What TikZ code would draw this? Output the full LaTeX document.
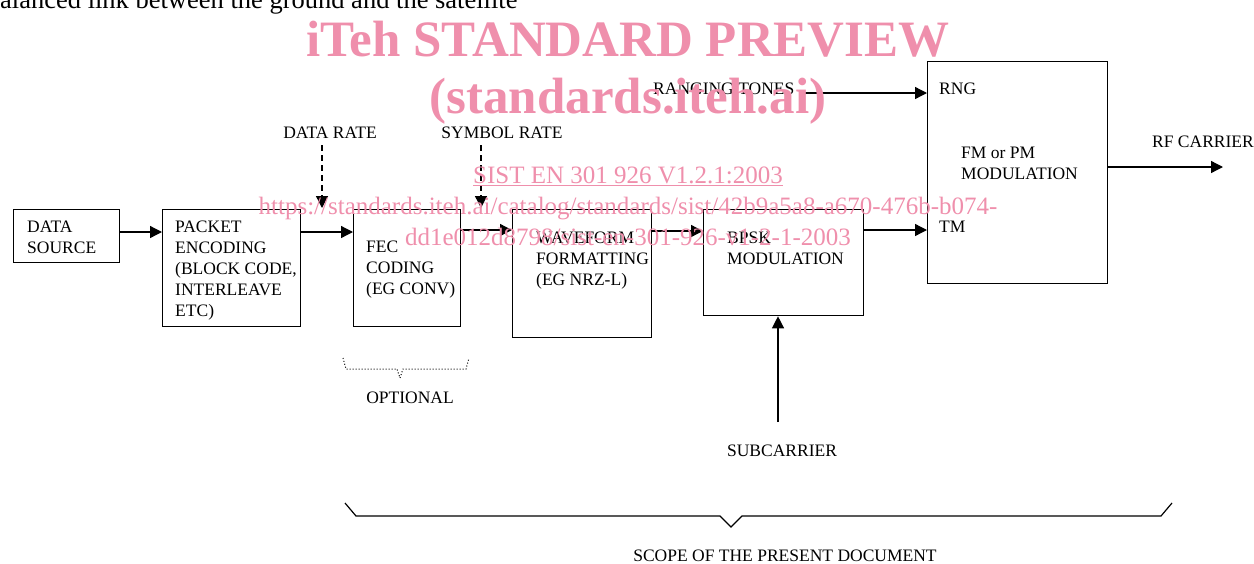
\documentclass[tikz,border=0pt]{standalone}
\usepackage{fontspec}
\setmainfont{Liberation Serif}
\usetikzlibrary{arrows.meta}
\definecolor{wm}{RGB}{239,143,172}
\begin{document}
\begin{tikzpicture}[x=1pt,y=-1pt,
  box/.style={draw, line width=1.3pt, rectangle, inner sep=0pt, anchor=north west},
  lbl/.style={inner sep=0pt, font=\fontsize{17.5}{21}\selectfont, align=left, anchor=north west},
  clbl/.style={inner sep=0pt, font=\fontsize{17.5}{21}\selectfont, anchor=base},
  arr/.style={line width=1.3pt, -{Triangle[length=12pt,width=12pt]}},
  darr/.style={arr, dash pattern=on 6pt off 4pt},
  wmbig/.style={inner sep=0pt, text=wm, font=\fontsize{51}{51}\selectfont\bfseries, anchor=base},
  wmsmall/.style={inner sep=0pt, text=wm, font=\fontsize{25}{25}\selectfont, anchor=base}]
\path[use as bounding box] (0,0) rectangle (1254,563);

% cut-off heading
\node[inner sep=0pt, anchor=base west, font=\fontsize{26.5}{26.5}\selectfont] (head) at (0,8) {alanced link between the ground and the satellite};

% boxes
\node[box, minimum width=106pt, minimum height=53pt] (ds) at (13,209) {};
\node[box, minimum width=138pt, minimum height=117pt] (pe) at (162,209) {};
\node[box, minimum width=107pt, minimum height=117pt] (fec) at (353,209) {};
\node[box, minimum width=139pt, minimum height=128pt] (wf) at (512,209) {};
\node[box, minimum width=160pt, minimum height=106pt] (bpsk) at (703,209) {};
\node[box, minimum width=180pt, minimum height=222pt] (fm) at (927,61) {};

% box texts
\node[lbl] (dst) at (27,221) {DATA\\SOURCE};
\node[lbl] (pet) at (175,221) {PACKET\\ENCODING\\(BLOCK CODE,\\INTERLEAVE\\ETC)};
\node[lbl] (fect) at (366,241) {FEC\\CODING\\(EG CONV)};
\node[lbl] (wft) at (536,232) {WAVEFORM\\FORMATTING\\(EG NRZ-L)};
\node[lbl] (bpskt) at (727,232) {BPSK\\MODULATION};
\node[lbl] (fmt) at (961,147) {FM or PM\\MODULATION};
\node[lbl] (rng) at (939,83) {RNG};
\node[lbl] (tm) at (939,221) {TM};

% outside labels
\node[lbl] (rt) at (653,83) {RANGING TONES};
\node[lbl] (rf) at (1152,136) {RF CARRIER};
\node[clbl] (dr) at (330,138) {DATA RATE};
\node[clbl] (sr) at (502,138) {SYMBOL RATE};
\node[clbl] (sc) at (782,456) {SUBCARRIER};
\node[clbl] (opt) at (410,403) {OPTIONAL};
\node[clbl] (scope) at (785,561) {SCOPE OF THE PRESENT DOCUMENT};

% connectors
\draw[arr] (ds.east |- 0,232) -- (pe.west |- 0,232);
\draw[arr] (pe.east |- 0,232) -- (fec.west |- 0,232);
\draw[arr] (fec.east |- 0,230) -- (wf.west |- 0,230);
\draw[arr] (wf.east |- 0,231) -- (bpsk.west |- 0,231);
\draw[arr] (bpsk.east |- 0,230) -- (fm.west |- 0,230);
\draw[arr] (805,93) -- (fm.west |- 0,93);
\draw[arr] (fm.east |- 0,167) -- (1223,167);
\draw[arr] (778,422) -- (bpsk.south -| 778,0);
\coordinate (drtip) at (322,208);
\coordinate (srtip) at (481,208);
\draw[darr] (dr.south -| drtip) ++(0,7) -- (drtip);
\draw[darr] (sr.south -| srtip) ++(0,7) -- (srtip);

% braces
\draw[line width=1pt, dotted] (343,358) -- (346,369) -- (397,369) -- (400,378) -- (403,369) -- (466,369) -- (469,358);
\draw[line width=1.2pt] (345,503) -- (356,516) -- (720,516) -- (731,527) -- (742,516) -- (1161,516) -- (1172,503);

% watermark
\node[wmbig] (wm1) at (628,56) {iTeh STANDARD PREVIEW};
\node[wmbig] (wm2) at (628,113) {(standards.iteh.ai)};
\node[wmsmall] (wm3) at (628,183) {\underline{SIST EN 301 926 V1.2.1:2003}};
\node[wmsmall] (wm4) at (628,214) {https://standards.iteh.ai/catalog/standards/sist/42b9a5a8-a670-476b-b074-};
\node[wmsmall] (wm5) at (628,245) {dd1e012d8798/sist-en-301-926-v1-2-1-2003};
\end{tikzpicture}
\end{document}
